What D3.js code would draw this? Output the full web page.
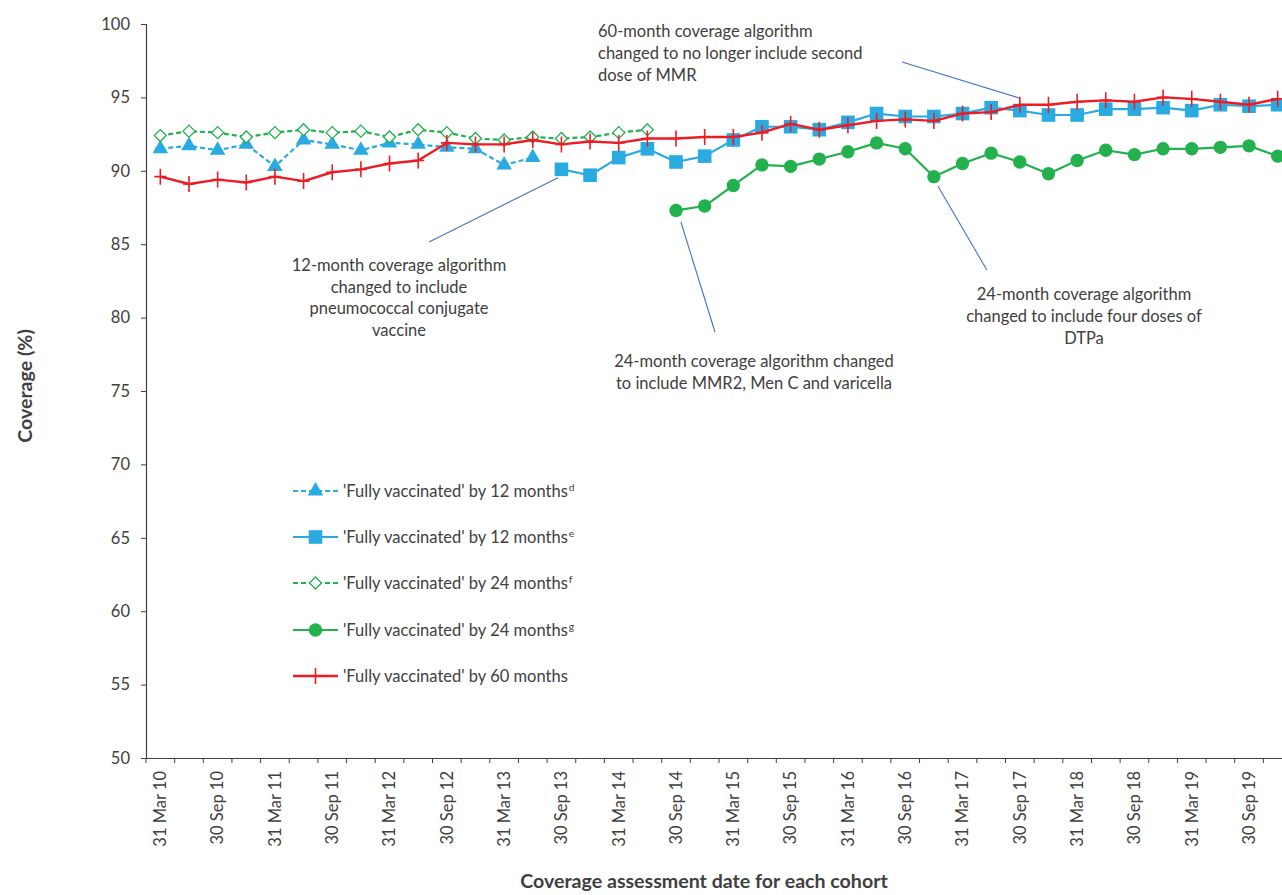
<!DOCTYPE html>
<html><head><meta charset="utf-8">
<script src="https://cdn.jsdelivr.net/npm/d3@7"></script>
<style>
body{margin:0;background:#fff}
svg{display:block}
text{font-family:Lato,'Open Sans',sans-serif;fill:#404040}
</style>
</head><body>
<svg id="chart" width="1282" height="895"></svg>
<script>
// ---------- DATA ----------
const categories = [
 "31 Mar 10","30 Jun 10","30 Sep 10","31 Dec 10",
 "31 Mar 11","30 Jun 11","30 Sep 11","31 Dec 11",
 "31 Mar 12","30 Jun 12","30 Sep 12","31 Dec 12",
 "31 Mar 13","30 Jun 13","30 Sep 13","31 Dec 13",
 "31 Mar 14","30 Jun 14","30 Sep 14","31 Dec 14",
 "31 Mar 15","30 Jun 15","30 Sep 15","31 Dec 15",
 "31 Mar 16","30 Jun 16","30 Sep 16","31 Dec 16",
 "31 Mar 17","30 Jun 17","30 Sep 17","31 Dec 17",
 "31 Mar 18","30 Jun 18","30 Sep 18","31 Dec 18",
 "31 Mar 19","30 Jun 19","30 Sep 19","31 Dec 19"
];
// shown tick labels (every second quarter)
const tickLabels = ["31 Mar 10","30 Sep 10","31 Mar 11","30 Sep 11","31 Mar 12","30 Sep 12",
 "31 Mar 13","30 Sep 13","31 Mar 14","30 Sep 14","31 Mar 15","30 Sep 15","31 Mar 16","30 Sep 16",
 "31 Mar 17","30 Sep 17","31 Mar 18","30 Sep 18","31 Mar 19","30 Sep 19"];
const yTicks = [50,55,60,65,70,75,80,85,90,95,100];

// 'Fully vaccinated' by 12 months (d) — 31 Mar 10 .. 30 Jun 13
const fv12d = [91.5,91.7,91.4,91.8,90.3,92.1,91.8,91.4,91.9,91.8,91.6,91.5,90.4,90.9];
const fv12dStart = 0;
// 'Fully vaccinated' by 12 months (e) — 30 Sep 13 .. 31 Dec 19
const fv12e = [90.1,89.7,90.9,91.5,90.6,91.0,92.1,93.0,93.0,92.8,93.3,93.9,93.7,93.7,93.9,94.3,
               94.1,93.8,93.8,94.2,94.2,94.3,94.1,94.5,94.4,94.5];
const fv12eStart = 14;
// 'Fully vaccinated' by 24 months (f) — 31 Mar 10 .. 30 Jun 14
const fv24f = [92.4,92.7,92.6,92.3,92.6,92.8,92.6,92.7,92.3,92.8,92.6,92.2,92.1,92.3,92.2,92.3,92.6,92.8];
const fv24fStart = 0;
// 'Fully vaccinated' by 24 months (g) — 30 Sep 14 .. 31 Dec 19
const fv24g = [87.3,87.6,89.0,90.4,90.3,90.8,91.3,91.9,91.5,89.6,90.5,91.2,90.6,89.8,90.7,91.4,
               91.1,91.5,91.5,91.6,91.7,91.0];
const fv24gStart = 18;
// 'Fully vaccinated' by 60 months — all quarters
const fv60 = [89.6,89.1,89.4,89.2,89.6,89.3,89.9,90.1,90.5,90.7,91.9,91.8,91.8,92.1,91.8,92.0,
              91.9,92.2,92.2,92.3,92.3,92.6,93.2,92.8,93.1,93.4,93.5,93.4,93.9,94.0,94.5,94.5,
              94.7,94.8,94.7,95.0,94.9,94.7,94.5,94.9];
const fv60Start = 0;

const seriesLabels = ["'Fully vaccinated' by 12 months","'Fully vaccinated' by 12 months",
  "'Fully vaccinated' by 24 months","'Fully vaccinated' by 24 months","'Fully vaccinated' by 60 months"];
const seriesNotes = ["d","e","f","g",""];

const annotationTexts = [
  ["60-month coverage algorithm","changed to no longer include second","dose of MMR"],
  ["12-month coverage algorithm","changed to include","pneumococcal conjugate","vaccine"],
  ["24-month coverage algorithm changed","to include MMR2, Men C and varicella"],
  ["24-month coverage algorithm","changed to include four doses of","DTPa"]
];
// leader lines in data units: [categoryIndex (fractional), value]
const annotationLeaders = [
  [[25.89,97.41],[29.97,94.96]],
  [[9.38,85.15],[13.88,89.53]],
  [[18.17,86.51],[19.36,79.02]],
  [[27.14,88.96],[28.85,83.24]]
];

// ---------- LAYOUT ----------
const BLUE="#29ABE2", GREEN="#22B14C", RED="#ED1C24", LEAD="#4472C4", AX="#404040";
const FS = 16.5, TFS = 19.6;
const svg = d3.select("#chart");
const x0 = 146, step = 28.65;
const x = d3.scaleBand().domain(categories).range([x0, x0 + step*categories.length]).padding(0);
const y = d3.scaleLinear().domain([50,100]).range([758,24]);
const xi = d3.scaleLinear().domain([0,1]).range([x0 + step/2, x0 + step*1.5]); // fractional index

function toPoints(vals, start){
  return categories.map((c,i)=>({c, v:(i>=start && i-start<vals.length)? vals[i-start] : null}))
                   .filter(d=>d.v!==null);
}

const series = [
  {pts: toPoints(fv12d,fv12dStart), color:BLUE,  dash:"5,3", sym:"tri"},
  {pts: toPoints(fv12e,fv12eStart), color:BLUE,  dash:null,  sym:"sq"},
  {pts: toPoints(fv24f,fv24fStart), color:GREEN, dash:"5,3", sym:"dia"},
  {pts: toPoints(fv24g,fv24gStart), color:GREEN, dash:null,  sym:"circ"},
  {pts: toPoints(fv60,fv60Start),   color:RED,   dash:null,  sym:"plus"}
];

function symbolPath(sym){
  if(sym==="tri") return d3.symbol(d3.symbolTriangle, 105)();
  if(sym==="sq") return d3.symbol(d3.symbolSquare, 185)();
  if(sym==="circ") return d3.symbol(d3.symbolCircle, 140)();
  if(sym==="dia") return "M0,-6L6,0L0,6L-6,0Z";
  return "M-6,0H6M0,-8V8";
}
function styleMarker(sel, s){
  if(s.sym==="dia") sel.attr("fill","#fff").attr("stroke",s.color).attr("stroke-width",1.3);
  else if(s.sym==="plus") sel.attr("fill","none").attr("stroke",s.color).attr("stroke-width",1.6);
  else sel.attr("fill",s.color).attr("stroke","none");
}

// ---------- AXES ----------
// y axis
const yAx = svg.append("g").attr("transform",`translate(${x0},0)`)
  .call(d3.axisLeft(y).tickValues(yTicks).tickSize(5).tickPadding(11));
yAx.select(".domain").attr("stroke",AX).attr("stroke-width",1.2);
yAx.selectAll(".tick line").attr("stroke",AX);
yAx.selectAll(".tick text").attr("font-family","Lato").attr("font-size",FS).attr("fill","#404040");

// x axis
const xAx = svg.append("g").attr("transform",`translate(0,${y(50)})`)
  .call(d3.axisBottom(x).tickValues(tickLabels).tickSize(0).tickPadding(0));
xAx.select(".domain").attr("stroke",AX).attr("stroke-width",1.2);
xAx.selectAll(".tick text")
  .attr("font-family","Lato").attr("font-size",FS).attr("fill","#404040")
  .attr("transform","rotate(-90)").attr("text-anchor","end")
  .attr("x",-13).attr("y",0).attr("dy","0.35em");
// boundary tick marks
svg.append("g").selectAll("line").data(categories.concat([null])).join("line")
  .attr("x1",(d,i)=> x0 + i*x.step()).attr("x2",(d,i)=> x0 + i*x.step())
  .attr("y1",y(50)).attr("y2",y(50)+5).attr("stroke",AX).attr("stroke-width",1);

// axis titles
svg.append("text").attr("transform",`translate(25,386) rotate(-90)`)
  .attr("text-anchor","middle").attr("dy","0.35em")
  .attr("font-size",TFS).attr("font-weight","bold").attr("fill","#262626").text("Coverage (%)");
svg.append("text").attr("x",704).attr("y",888).attr("text-anchor","middle")
  .attr("font-size",TFS).attr("font-weight","bold").attr("fill","#262626")
  .text("Coverage assessment date for each cohort");

// ---------- ANNOTATION LEADERS ----------
svg.append("g").selectAll("line").data(annotationLeaders).join("line")
  .attr("x1",d=>xi(d[0][0])).attr("y1",d=>y(d[0][1]))
  .attr("x2",d=>xi(d[1][0])).attr("y2",d=>y(d[1][1]))
  .attr("stroke",LEAD).attr("stroke-width",1.1);

// ---------- SERIES ----------
const line = d3.line().x(d=>x(d.c)+x.bandwidth()/2).y(d=>y(d.v));
series.forEach(s=>{
  const g = svg.append("g");
  g.append("path").datum(s.pts).attr("d",line).attr("fill","none")
    .attr("stroke",s.color).attr("stroke-width",s.sym==="plus"?2.4:2.2)
    .attr("stroke-dasharray",s.dash).attr("stroke-linejoin","round");
  g.selectAll("path.m").data(s.pts).join("path").attr("class","m")
    .attr("transform",d=>`translate(${x(d.c)+x.bandwidth()/2},${y(d.v)})`)
    .attr("d",symbolPath(s.sym)).call(styleMarker,s);
});

// ---------- ANNOTATION TEXT ----------
const annLayout = [
  {x:598, y:37, anchor:"start", lh:22},
  {x:399, y:271, anchor:"middle", lh:21.5},
  {x:754, y:367, anchor:"middle", lh:22},
  {x:1084, y:300, anchor:"middle", lh:22}
];
annotationTexts.forEach((lines,k)=>{
  const L = annLayout[k];
  const t = svg.append("text").attr("font-size",FS).attr("text-anchor",L.anchor).attr("fill","#404040");
  lines.forEach((ln,j)=> t.append("tspan").attr("x",L.x).attr("y",L.y + j*L.lh).text(ln));
});

// ---------- LEGEND ----------
const legY = [491,537,583,630,676];
const lg = svg.append("g");
series.forEach((s,i)=>{
  const g = lg.append("g").attr("transform",`translate(0,${legY[i]})`);
  g.append("line").attr("x1",293).attr("x2",338).attr("y1",0).attr("y2",0)
    .attr("stroke",s.color).attr("stroke-width",s.sym==="plus"?2.4:2.2).attr("stroke-dasharray",s.dash);
  g.append("path").attr("transform","translate(315.5,0)").attr("d",symbolPath(s.sym)).call(styleMarker,s);
  const t = g.append("text").attr("x",343).attr("y",0).attr("dy","0.35em").attr("font-size",FS).attr("fill","#404040");
  t.append("tspan").text(seriesLabels[i]);
  if(seriesNotes[i]) t.append("tspan").attr("font-size",FS*0.62).attr("dy","-0.55em").attr("dx","1").text(seriesNotes[i]);
});
</script>
</body></html>
